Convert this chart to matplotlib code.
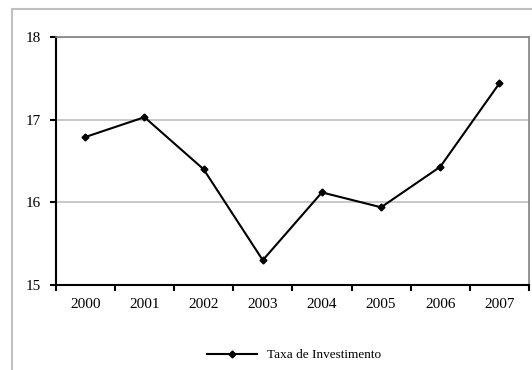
import matplotlib
matplotlib.use('Agg')
import matplotlib.pyplot as plt  # noqa
from matplotlib.patches import Rectangle
import numpy as np

# data
years = ['2000', '2001', '2002', '2003', '2004', '2005', '2006', '2007']
taxa = [16.79, 17.03, 16.40, 15.30, 16.12, 15.94, 16.43, 17.44]
serie_label = 'Taxa de Investimento'

plt.rcParams['font.family'] = ['Liberation Serif', 'DejaVu Serif']

fig = plt.figure(figsize=(5.32, 3.70), dpi=100)

# outer light gray chart border (cut off on the right and bottom)
fig.patches.append(Rectangle((12 / 532, -0.05), 1.0, 1 - 9 / 370 + 0.05,
                             transform=fig.transFigure, fill=False,
                             edgecolor='#c0c0c0', lw=1.5))

ax = fig.add_axes([55.7 / 532, 85 / 370, (529 - 55.7) / 532, (285 - 37) / 370])

x = np.arange(len(years))
ax.plot(x, taxa, color='black', lw=1.5, marker='D', ms=3.5,
        label=serie_label, zorder=3)

ax.set_xlim(-0.5, len(years) - 0.5)
ax.set_ylim(15, 18)
ax.set_yticks([15, 16, 17, 18])
ax.yaxis.grid(True, color='#c0c0c0', lw=1.2)
ax.set_axisbelow(True)

# ticks between categories, labels in the middle
ax.set_xticks(np.arange(len(years) + 1) - 0.5)
ax.set_xticklabels([])
ax.set_xticks(x, minor=True)
ax.set_xticklabels(years, minor=True)
ax.tick_params(axis='x', which='major', direction='out', length=4, width=1.5)
ax.tick_params(axis='x', which='minor', length=0, pad=9, labelsize=11)
ax.tick_params(axis='y', direction='out', length=4, width=1.5, pad=7, labelsize=11)

for side in ['left', 'bottom']:
    ax.spines[side].set_color('black')
    ax.spines[side].set_linewidth(1.5)
for side in ['top', 'right']:
    ax.spines[side].set_color('#808080')
    ax.spines[side].set_linewidth(1.2)

fig.legend(loc='center', bbox_to_anchor=(0.552, 0.04), frameon=False,
           fontsize=9.5, handlelength=3.8, handletextpad=0.76)

fig.savefig('out.png', dpi=100)
